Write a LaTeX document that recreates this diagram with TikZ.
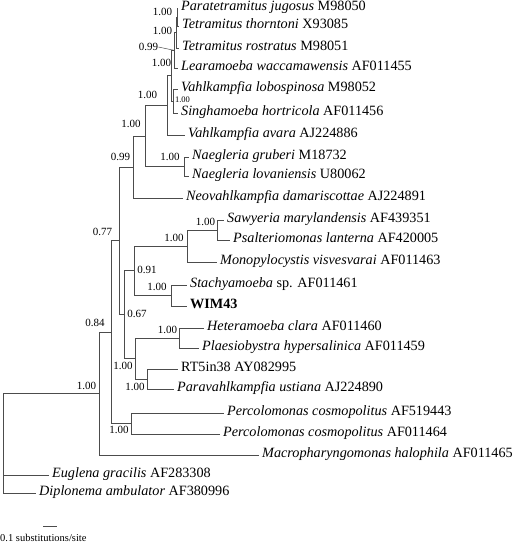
\documentclass[tikz,border=0pt]{standalone}
\usepackage{fontspec}
\setmainfont{Liberation Serif}
\usetikzlibrary{positioning}
\begin{document}
\begin{tikzpicture}[x=1pt,y=-1pt,
  every node/.style={inner sep=0pt},
  leaf/.style={anchor=west,inner xsep=3pt,font=\fontsize{14.2}{16}\selectfont,text height=.68em,text depth=.2em},
  bs/.style={font=\fontsize{11}{13}\selectfont},
  br/.style={draw=black!70,line width=.7pt}]
  \useasboundingbox (0,0) rectangle (520,544);
  % taxa
  \node[leaf] (t1) at (178,8.5) {\textit{Paratetramitus jugosus} M98050};
  \node[leaf] (t2) at (179,26) {\textit{Tetramitus thorntoni} X93085};
  \node[leaf] (t3) at (179,48) {\textit{Tetramitus rostratus} M98051};
  \node[leaf] (t4) at (178,68) {\textit{Learamoeba waccamawensis} AF011455};
  \node[leaf] (t5) at (178,89) {\textit{Vahlkampfia lobospinosa} M98052};
  \node[leaf] (t6) at (178,113) {\textit{Singhamoeba hortricola} AF011456};
  \node[leaf] (t7) at (185,135) {\textit{Vahlkampfia avara} AJ224886};
  \node[leaf] (t8) at (189,157) {\textit{Naegleria gruberi} M18732};
  \node[leaf] (t9) at (189,176) {\textit{Naegleria lovaniensis} U80062};
  \node[leaf] (t10) at (183,198) {\textit{Neovahlkampfia damariscottae} AJ224891};
  \node[leaf] (t11) at (224,220) {\textit{Sawyeria marylandensis} AF439351};
  \node[leaf] (t12) at (230,240) {\textit{Psalteriomonas lanterna} AF420005};
  \node[leaf] (t13) at (217,262) {\textit{Monopylocystis visvesvarai} AF011463};
  \node[leaf] (t14) at (187,285) {\textit{Stachyamoeba} sp. AF011461};
  \node[leaf] (t15) at (187,306) {\textbf{WIM43}};
  \node[leaf] (t16) at (204,328) {\textit{Heteramoeba clara} AF011460};
  \node[leaf] (t17) at (199,348) {\textit{Plaesiobystra hypersalinica} AF011459};
  \node[leaf] (t18) at (178,369) {RT5in38 AY082995};
  \node[leaf] (t19) at (174,389) {\textit{Paravahlkampfia ustiana} AJ224890};
  \node[leaf] (t20) at (224,413) {\textit{Percolomonas cosmopolitus} AF519443};
  \node[leaf] (t21) at (220,434) {\textit{Percolomonas cosmopolitus} AF011464};
  \node[leaf] (t22) at (259,455) {\textit{Macropharyngomonas halophila} AF011465};
  \node[leaf] (t23) at (49,475) {\textit{Euglena gracilis} AF283308};
  \node[leaf] (t24) at (36,493) {\textit{Diplonema ambulator} AF380996};
  % internal nodes
  \coordinate (A1) at (177,17.25);
  \coordinate (A2) at (176,32.6);
  \coordinate (A3) at (174,50.3);
  \coordinate (B) at (173,101);
  \coordinate (A4) at (171,75.65);
  \coordinate (X1) at (167,105.3);
  \coordinate (N) at (184,166.5);
  \coordinate (X2) at (145,136);
  \coordinate (X3) at (133,167);
  \coordinate (S1) at (217,230);
  \coordinate (S2) at (187,246);
  \coordinate (St) at (171,295.5);
  \coordinate (P91) at (134,270.75);
  \coordinate (H) at (179,338);
  \coordinate (R) at (147,379);
  \coordinate (H2) at (135,358.5);
  \coordinate (P67) at (124,314.6);
  \coordinate (P77) at (119,240.8);
  \coordinate (Pc) at (131,423.5);
  \coordinate (P84) at (111,332);
  \coordinate (In) at (99,393.5);
  \coordinate (Root) at (3,393.5);
  % branches
  \draw[br] (A1) |- (t1.west) (A1) |- (t2.west);
  \draw[br] (A2) |- (A1) (A2) |- (t3.west);
  \draw[br] (A3) |- (A2) (A3) |- (t4.west);
  \draw[br] (B) |- (t5.west) (B) |- (t6.west);
  \draw[br] (A4) |- (A3) (A4) |- (B);
  \draw[br] (X1) |- (A4) (X1) |- (t7.west);
  \draw[br] (N) |- (t8.west) (N) |- (t9.west);
  \draw[br] (X2) |- (X1) (X2) |- (N);
  \draw[br] (X3) |- (X2) (X3) |- (t10.west);
  \draw[br] (S1) |- (t11.west) (S1) |- (t12.west);
  \draw[br] (S2) |- (S1) (S2) |- (t13.west);
  \draw[br] (St) |- (t14.west) (St) |- (t15.west);
  \draw[br] (P91) |- (S2) (P91) |- (St);
  \draw[br] (H) |- (t16.west) (H) |- (t17.west);
  \draw[br] (R) |- (t18.west) (R) |- (t19.west);
  \draw[br] (H2) |- (H) (H2) |- (R);
  \draw[br] (P67) |- (P91) (P67) |- (H2);
  \draw[br] (P77) |- (X3) (P77) |- (P67);
  \draw[br] (Pc) |- (t20.west) (Pc) |- (t21.west);
  \draw[br] (P84) |- (P77) (P84) |- (Pc);
  \draw[br] (In) |- (P84) (In) |- (t22.west);
  \draw[br] (Root) |- (In) (Root) |- (t23.west) (Root) |- (t24.west);
  % support values
  \node[bs] (l1) at (162.5,12) {1.00};
  \node[bs] (l2) at (162.5,31) {1.00};
  \node[bs] (l3) at (148.5,47) {0.99};
  \draw[br,line width=.5pt] (l3.east) -- (A3);
  \node[bs] (l4) at (161.5,63) {1.00};
  \node[bs] (l5) at (147.5,95) {1.00};
  \node[bs,font=\fontsize{8.5}{9}\selectfont] (l6) at (182.5,99.5) {1.00};
  \node[bs] (l7) at (131,124) {1.00};
  \node[bs] (l8) at (120.5,157) {0.99};
  \node[bs] (l9) at (170,157) {1.00};
  \node[bs] (l10) at (102.5,232) {0.77};
  \node[bs] (l11) at (205.5,222) {1.00};
  \node[bs] (l12) at (174,238) {1.00};
  \node[bs] (l13) at (147,270) {0.91};
  \node[bs] (l14) at (157,287) {1.00};
  \node[bs] (l15) at (137,314) {0.67};
  \node[bs] (l16) at (167.5,330) {1.00};
  \node[bs] (l17) at (123,366) {1.00};
  \node[bs] (l18) at (135,387) {1.00};
  \node[bs] (l19) at (119,430) {1.00};
  \node[bs] (l20) at (95,323) {0.84};
  \node[bs] (l21) at (86.5,386) {1.00};
  % scale bar
  \coordinate (sb1) at (43,526);
  \coordinate (sb2) at (57,526);
  \draw[br] (sb1) -- (sb2);
  \node[anchor=west,font=\fontsize{10.5}{12}\selectfont] (sbl) at (0,538) {0.1 substitutions/site};
\end{tikzpicture}
\end{document}
